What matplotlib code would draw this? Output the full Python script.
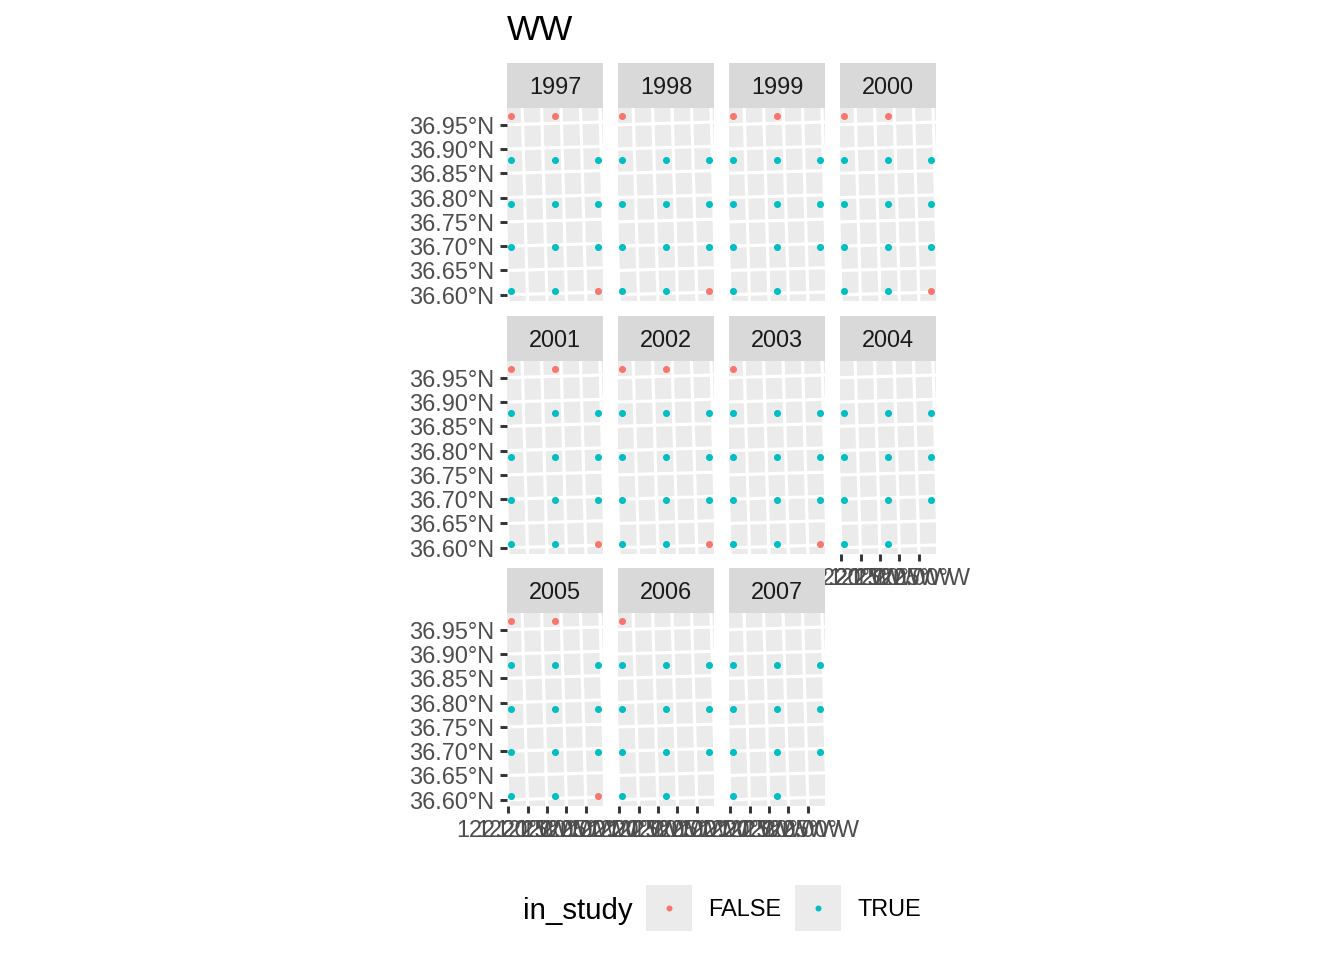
import numpy as np
import matplotlib
matplotlib.use("Agg")
import matplotlib.pyplot as plt

plt.rcParams['font.family'] = ['Liberation Sans', 'DejaVu Sans']

# ── data ─────────────────────────────────────────────
YEARS = [1997, 1998, 1999, 2000, 2001, 2002, 2003, 2004, 2005, 2006, 2007]
STATION_LON = [-122.185, -122.073, -121.961]
STATION_LAT = [36.965, 36.875, 36.785, 36.695, 36.605]
# one string per station row (north -> south), one char per column (west -> east)
# F = in_study FALSE, T = in_study TRUE, . = no sample
STATUS = {
    1997: ["FF.", "TTT", "TTT", "TTT", "TTF"],
    1998: ["F..", "TTT", "TTT", "TTT", "TTF"],
    1999: ["FF.", "TTT", "TTT", "TTT", "TT."],
    2000: ["FF.", "TTT", "TTT", "TTT", "TTF"],
    2001: ["FF.", "TTT", "TTT", "TTT", "TTF"],
    2002: ["FF.", "TTT", "TTT", "TTT", "TTF"],
    2003: ["F..", "TTT", "TTT", "TTT", "TTF"],
    2004: ["...", "TTT", "TTT", "TTT", "TT."],
    2005: ["FF.", "TTT", "TTT", "TTT", "TTF"],
    2006: ["F..", "TTT", "TTT", "TTT", "TT."],
    2007: ["...", "TTT", "TTT", "TTT", "TT."],
}
LEGEND_LABELS = ["FALSE", "TRUE"]
COLORS = {"F": "#F8766D", "T": "#00BFC4"}

MERIDIANS = np.arange(-122.35, -121.80, 0.05)
PARALLELS = np.arange(36.45, 37.10, 0.05)

# ── simple rotated projection (mimics the tilted sf graticule) ──
LON0, LAT0 = -122.0725, 36.783
THETA = np.radians(1.6)
COSLAT = np.cos(np.radians(LAT0))


def proj(lon, lat):
    x = (np.asarray(lon) - LON0) * COSLAT
    y = np.asarray(lat) - LAT0
    return (x * np.cos(THETA) - y * np.sin(THETA),
            x * np.sin(THETA) + y * np.cos(THETA))


def grid_xy(lon, lat):
    # stations sit on a regular projected grid (no rotation)
    return (lon - LON0) * COSLAT, lat - LAT0


PXDEG = 485.7
PW, PH = 96, 193
XLIM = (-PW / 2 / PXDEG, PW / 2 / PXDEG)
YLIM = (-PH / 2 / PXDEG, PH / 2 / PXDEG)

W, H = 1344, 960
fig = plt.figure(figsize=(7, 5), dpi=192)


def px_axes(x, y, w, h):
    return fig.add_axes([x / W, 1 - (y + h) / H, w / W, h / H])


COL_X = [507, 618, 729, 840]
STRIP_Y = [63, 316, 568]
STRIP_H = 45

for i, year in enumerate(YEARS):
    r, c = divmod(i, 4)
    x0 = COL_X[c]
    sy = STRIP_Y[r]

    # strip
    sax = px_axes(x0, sy, PW, STRIP_H)
    sax.set_facecolor("#D9D9D9")
    sax.set_xticks([]); sax.set_yticks([])
    for s in sax.spines.values():
        s.set_visible(False)
    sax.text(0.5, 0.46, str(year), ha="center", va="center",
             fontsize=8.8, color="#1A1A1A", transform=sax.transAxes)

    ax = px_axes(x0, sy + STRIP_H, PW, PH)
    ax.set_facecolor("#EBEBEB")
    for s in ax.spines.values():
        s.set_visible(False)
    ax.set_xlim(XLIM); ax.set_ylim(YLIM)

    # graticule
    lat_line = np.linspace(36.3, 37.3, 50)
    lon_line = np.linspace(-122.6, -121.6, 50)
    for lon in MERIDIANS:
        gx, gy = proj(np.full_like(lat_line, lon), lat_line)
        ax.plot(gx, gy, color="white", lw=1.2, zorder=1)
    for lat in PARALLELS:
        gx, gy = proj(lon_line, np.full_like(lon_line, lat))
        ax.plot(gx, gy, color="white", lw=1.2, zorder=1)

    # stations
    for ri, row in enumerate(STATUS[year]):
        for ci, code in enumerate(row):
            if code == ".":
                continue
            px, py = grid_xy(STATION_LON[ci], STATION_LAT[ri])
            ax.scatter(px, py, s=7, color=COLORS[code], linewidths=0,
                       zorder=3, clip_on=False)

    # ticks where graticule meets the panel edges
    xt, xl = [], []
    for lon in MERIDIANS:
        xs = (lon - LON0) * COSLAT
        yy = (YLIM[0] - xs * np.sin(THETA)) / np.cos(THETA)
        X = xs * np.cos(THETA) - yy * np.sin(THETA)
        if XLIM[0] <= X <= XLIM[1]:
            xt.append(X); xl.append(f"{abs(lon):.2f}°W")
    yt, yl = [], []
    for lat in PARALLELS:
        yy = lat - LAT0
        xs = (XLIM[0] + yy * np.sin(THETA)) / np.cos(THETA)
        Y = xs * np.sin(THETA) + yy * np.cos(THETA)
        if YLIM[0] <= Y <= YLIM[1]:
            yt.append(Y); yl.append(f"{lat:.2f}°N")

    bottom = (i + 4 >= len(YEARS))
    if bottom:
        ax.set_xticks(xt)
        ax.set_xticklabels(xl)
    else:
        ax.set_xticks([])
    if c == 0:
        ax.set_yticks(yt)
        ax.set_yticklabels(yl)
    else:
        ax.set_yticks([])
    ax.tick_params(length=2.75, width=1.1, pad=2.2, color="#333333",
                   labelcolor="#4D4D4D", labelsize=8.8)

# title
fig.text(507 / W, 1 - 30 / H, "WW", fontsize=13.2, ha="left", va="center",
         color="black")

# legend
fig.text(523 / W, 1 - 911 / H, "in_study", fontsize=11, ha="left",
         va="center", color="black")
key_x = [646, 795]
text_x = [708, 857]
for kx, tx, lab, code in zip(key_x, text_x, LEGEND_LABELS, ["F", "T"]):
    kax = px_axes(kx, 885, 46, 46)
    kax.set_facecolor("#EBEBEB")
    kax.set_xticks([]); kax.set_yticks([])
    for s in kax.spines.values():
        s.set_visible(False)
    kax.set_xlim(0, 1); kax.set_ylim(0, 1)
    kax.scatter([0.5], [0.5], s=5, color=COLORS[code], linewidths=0)
    fig.text(tx / W, 1 - 910 / H, lab, fontsize=8.8, ha="left", va="center",
             color="black")

fig.savefig("out.png", dpi=192, facecolor="white")
